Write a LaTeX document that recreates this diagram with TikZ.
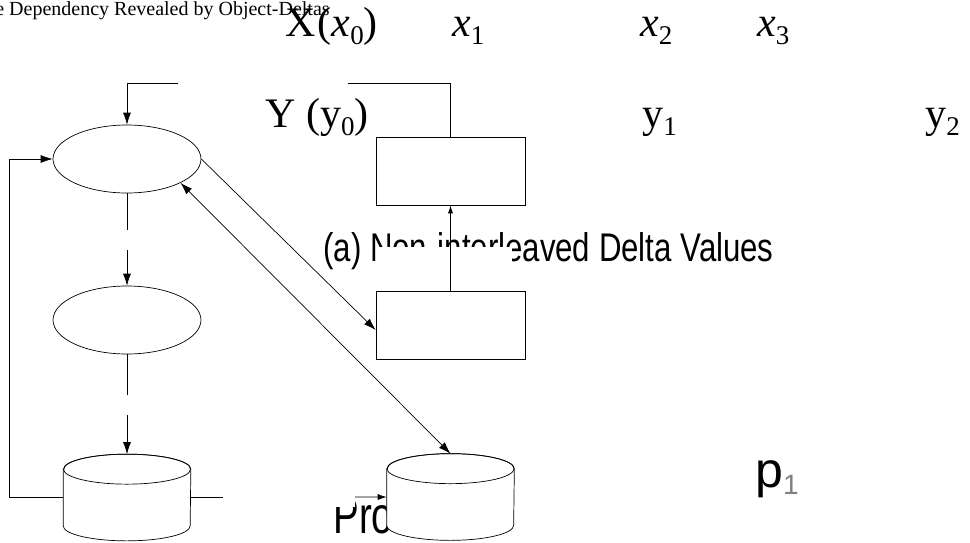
\documentclass[tikz,border=0pt]{standalone}
\usepackage{fontspec}
\setmainfont{Liberation Serif}
\newfontfamily\arialfont{Liberation Sans}
\usepackage{tikz}
\usetikzlibrary{shapes.geometric, positioning, arrows.meta, calc}

\newcommand{\lowidx}[1]{\raisebox{-0.2em}{\fontsize{27}{27}\selectfont #1}}
% cylinder drawn round a named box
\newcommand{\drumshape}[1]{%
  \filldraw[fill=white] ($(#1.north west)+(0,15)$) -- ($(#1.south west)+(0,-15)$)
    arc[start angle=180, end angle=360, x radius=63.5pt, y radius=15pt]
    -- ($(#1.north east)+(0,15)$)
    arc[start angle=0, end angle=180, x radius=63.5pt, y radius=15pt] -- cycle;
  \draw ($(#1.north)+(0,15)$) ellipse[x radius=63.5pt, y radius=15pt];}

\begin{document}
\begin{tikzpicture}[x=1pt, y=-1pt, >={Latex[length=12pt,width=8pt]}, line width=0.7pt,
  proc/.style={draw, ellipse, minimum width=148pt, minimum height=68pt, inner sep=0pt, fill=white},
  buf/.style={draw, rectangle, minimum width=149pt, minimum height=68pt, inner sep=0pt, fill=white},
  store/.style={rectangle, minimum width=127pt, minimum height=86pt, inner sep=0pt},
  big/.style={font=\fontsize{42}{42}\selectfont, inner sep=0pt, anchor=base west},
  sans/.style={inner sep=0pt, anchor=base west},
  mask/.style={fill=white, draw=none},
  gapped/.style={dash pattern=#1}]
  \useasboundingbox (0,0) rectangle (970,542);

  \node[proc] (scan) at (127,159) {};
  \node[proc] (merge) at (127,320) {};
  \node[store] (log) at (127,497.5) {};
  \node[buf] (upper) at (450.5,171) {};
  \node[buf] (lower) at (450.5,325.5) {};
  \node[store] (disk) at (450.5,497) {};

  % connectors that get hidden in part
  \draw[->] (upper.north) |- ($(scan.north)+(0,-41)$) -- (scan.north);
  \draw[->] (log.west) -- ++(-53.5,0) |- (scan.west);
  \draw[->, >={Latex[length=9pt,width=6pt]}] (log.east) -- (disk.west);

  % texts
  \node[font=\fontsize{20}{20}\selectfont, inner sep=0pt, anchor=base west] (title) at (-5,15) {e Dependency Revealed by Object-Deltas};
  \node[big] (xval) at (285,36) {X\kern2pt(\textit{x}\lowidx{0})};
  \node[big] (x1) at (452,36) {\textit{x}\lowidx{1}};
  \node[big] (x2) at (640,36) {\textit{x}\lowidx{2}};
  \node[big] (x3) at (757,36) {\textit{x}\lowidx{3}};
  \node[big] (yval) at (265,127) {Y (y\lowidx{0})};
  \node[big] (y1) at (642,127) {y\lowidx{1}};
  \node[big] (y2) at (925,127) {y\lowidx{2}};
  \node[sans] (caption) at (323,261)
    {\scalebox{0.78}[1]{\arialfont\fontsize{40}{40}\selectfont (a) Non-interleaved Delta Values}};
  \node[sans] (pro) at (333,533)
    {\scalebox{0.74}[1]{\arialfont\fontsize{52}{52}\selectfont Pro}};
  \node[sans] (p1) at (755,487)
    {\arialfont\fontsize{50}{50}\selectfont p\raisebox{-7pt}{\fontsize{28}{28}\selectfont\color{gray}1}};

  % white patches
  \fill[mask] (178,72) rectangle (348,93);
  \fill[mask] (378,247) rectangle (512,272);
  \fill[mask] (223,484) rectangle (355,507);

  \drumshape{log}
  \drumshape{disk}
  \draw[->, >={Latex[length=8pt,width=5pt]}] (lower.north) -- (upper.south);
  \draw[->] (scan.east) -- ($(lower.west)+(0,4.5)$);
  \draw[<->] (scan.-24) -- (disk.north);
  \draw[->, gapped={on 37pt off 20pt on 200pt}] (scan.south) -- (merge.north);
  \draw[->, gapped={on 41pt off 20pt on 200pt}] (merge.south) -- (log.north);
\end{tikzpicture}
\end{document}
